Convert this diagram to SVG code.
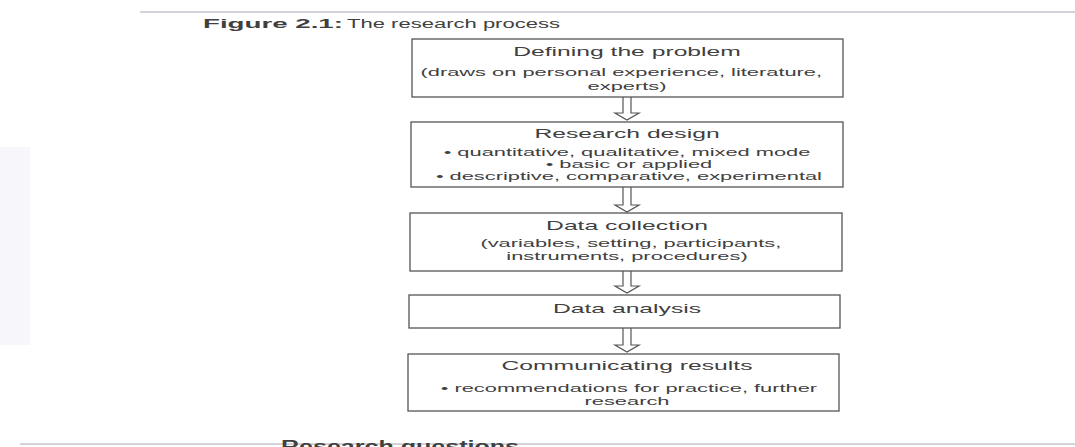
<svg xmlns="http://www.w3.org/2000/svg" width="1075" height="447" viewBox="0 0 1075 447">
<style>
text{font-family:"Liberation Sans",Arial,sans-serif;fill:#404040}
.h{font-size:13px;text-anchor:middle}
.b{font-size:11.5px;text-anchor:middle}
.box{fill:#ffffff;stroke:#555555;stroke-width:1.3}
.arr{fill:none;stroke:#555555;stroke-width:1.2;stroke-linejoin:miter}
.scan{stroke:#c4c6cc;stroke-width:1.5;fill:none}
</style>
<rect x="0" y="0" width="1075" height="447" fill="#ffffff"/>
<rect x="0" y="147" width="30" height="198" fill="#f7f7fb"/>
<line class="scan" x1="140" y1="12" x2="1075" y2="12"/>
<line class="scan" x1="20" y1="444" x2="1075" y2="444"/>

<g id="title">
<text x="203" y="28" font-size="13" font-weight="bold" textLength="140" lengthAdjust="spacingAndGlyphs">Figure 2.1:</text>
<text x="347" y="28" font-size="12.5" textLength="213" lengthAdjust="spacingAndGlyphs">The research process</text>
</g>

<g id="connectors">
<path class="arr" d="M623,97 V113 H615 L627,120 L639,113 H631 V97"/>
<path class="arr" d="M623,187 V205 H615 L627,212 L639,205 H631 V187"/>
<path class="arr" d="M623,271 V286 H615 L627,293 L639,286 H631 V271"/>
<path class="arr" d="M623,328 V345 H615 L627,352 L639,345 H631 V328"/>
</g>

<g id="node-defining">
<rect class="box" x="412" y="39" width="431" height="58"/>
<g transform="translate(627 0) scale(1.9 1)">
<text class="h" x="0" y="56">Defining the problem</text>
<text class="b" x="-3" y="76">(draws on personal experience, literature,</text>
<text class="b" x="0" y="90">experts)</text>
</g>
</g>

<g id="node-design">
<rect class="box" x="411" y="122" width="432" height="65"/>
<g transform="translate(627 0) scale(1.9 1)">
<text class="h" x="0" y="138">Research design</text>
<text class="b" x="0" y="156">• quantitative, qualitative, mixed mode</text>
<text class="b" x="1" y="168">• basic or applied</text>
<text class="b" x="1" y="180">• descriptive, comparative, experimental</text>
</g>
</g>

<g id="node-collection">
<rect class="box" x="410" y="213" width="432" height="58"/>
<g transform="translate(627 0) scale(1.9 1)">
<text class="h" x="0" y="230">Data collection</text>
<text class="b" x="2" y="247">(variables, setting, participants,</text>
<text class="b" x="0" y="260">instruments, procedures)</text>
</g>
</g>

<g id="node-analysis">
<rect class="box" x="409" y="295" width="431" height="33"/>
<g transform="translate(627 0) scale(1.9 1)">
<text class="h" x="0" y="313">Data analysis</text>
</g>
</g>

<g id="node-communicating">
<rect class="box" x="408" y="354" width="431" height="57"/>
<g transform="translate(627 0) scale(1.9 1)">
<text class="h" x="0" y="370">Communicating results</text>
<text class="b" x="1" y="392">• recommendations for practice, further</text>
<text class="b" x="0" y="405">research</text>
</g>
</g>

<text x="281" y="452" font-size="16" font-weight="bold" textLength="238" lengthAdjust="spacingAndGlyphs">Research questions</text>
</svg>
